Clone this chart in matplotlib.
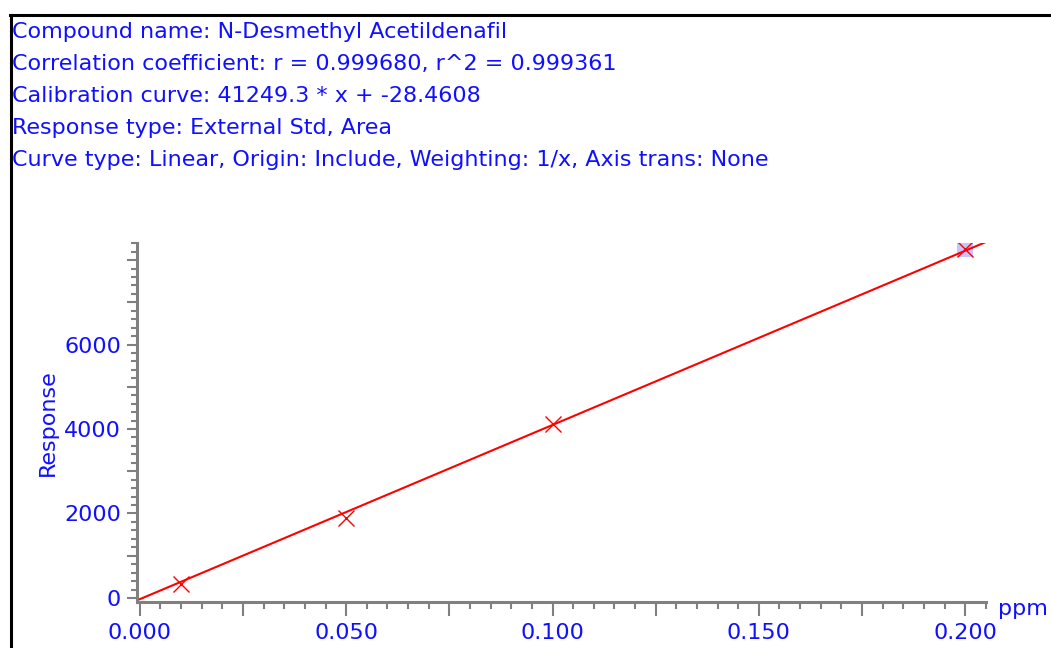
import numpy as np
import matplotlib.pyplot as plt
from matplotlib.ticker import MultipleLocator, FuncFormatter
from matplotlib.lines import Line2D

plt.rcParams['font.family'] = ['DejaVu Sans']

# 标题信息
header_lines = [
    "Compound name: N-Desmethyl Acetildenafil",
    "Correlation coefficient: r = 0.999680, r^2 = 0.999361",
    "Calibration curve: 41249.3 * x + -28.4608",
    "Response type: External Std, Area",
    "Curve type: Linear, Origin: Include, Weighting: 1/x, Axis trans: None",
]

# 校准点
conc_ppm = [0.010, 0.050, 0.100, 0.200]
response = [340, 1900, 4120, 8260]
selected_idx = 3

# 校准曲线
slope = 41249.3
intercept = -28.4608
curve_x = [0.0, 0.205]

# 带标签的刻度
y_labeled = [0, 2000, 4000, 6000]

blue = '#1010ff'
gray = '#808080'

fig = plt.figure(figsize=(10.51, 6.48), dpi=100)

# 外框（上边和左边）
fig.add_artist(Line2D([10 / 1051, 1.0], [1 - 15 / 648, 1 - 15 / 648],
                      color='black', linewidth=2.2, transform=fig.transFigure))
fig.add_artist(Line2D([11 / 1051, 11 / 1051], [0.0, 1 - 15 / 648],
                      color='black', linewidth=2.2, transform=fig.transFigure))

for i, line in enumerate(header_lines):
    fig.text(12 / 1051, 1 - (32 + i * 32) / 648, line, color=blue,
             fontsize=16, va='center', ha='left')

ax = fig.add_axes([0.1299, 0.0707, 0.8081, 0.554])

xs = np.array(curve_x)
ax.plot(xs, slope * xs + intercept, color='red', linewidth=1.5, zorder=3)
ax.plot(conc_ppm[selected_idx], response[selected_idx], marker='s',
        markersize=11, color='#c4c4ff', markeredgewidth=0, zorder=2)
ax.plot(conc_ppm, response, linestyle='none', marker='x', color='red',
        markersize=11, markeredgewidth=1.0, zorder=4)

ax.set_xlim(-0.0008, 0.205)
ax.set_ylim(-100, 8400)

for side in ['top', 'right']:
    ax.spines[side].set_visible(False)
for side in ['left', 'bottom']:
    ax.spines[side].set_color(gray)
    ax.spines[side].set_linewidth(2.2)

ax.xaxis.set_major_locator(MultipleLocator(0.025))
ax.xaxis.set_minor_locator(MultipleLocator(0.005))
ax.yaxis.set_major_locator(MultipleLocator(1000))
ax.yaxis.set_minor_locator(MultipleLocator(200))

ax.xaxis.set_major_formatter(FuncFormatter(
    lambda v, p: f"{v:.3f}" if abs(round(v / 0.05) * 0.05 - v) < 1e-9 else ""))
ax.yaxis.set_major_formatter(FuncFormatter(
    lambda v, p: f"{v:.0f}" if int(round(v)) in y_labeled else ""))

ax.tick_params(axis='x', which='major', length=10, width=1.5, color=gray,
               labelcolor=blue, labelsize=16, pad=5)
ax.tick_params(axis='x', which='minor', length=5, width=1.5, color=gray)
ax.tick_params(axis='y', which='major', length=7, width=1.5, color=gray,
               labelcolor=blue, labelsize=16, pad=4)
ax.tick_params(axis='y', which='minor', length=4, width=1.5, color=gray)

ax.set_ylabel('Response', color=blue, fontsize=16, labelpad=5)
ax.annotate('ppm', xy=(1.0, 0.0), xycoords='axes fraction',
            xytext=(9, -5), textcoords='offset points',
            color=blue, fontsize=16, ha='left', va='center')

fig.savefig('out.png', dpi=100)
